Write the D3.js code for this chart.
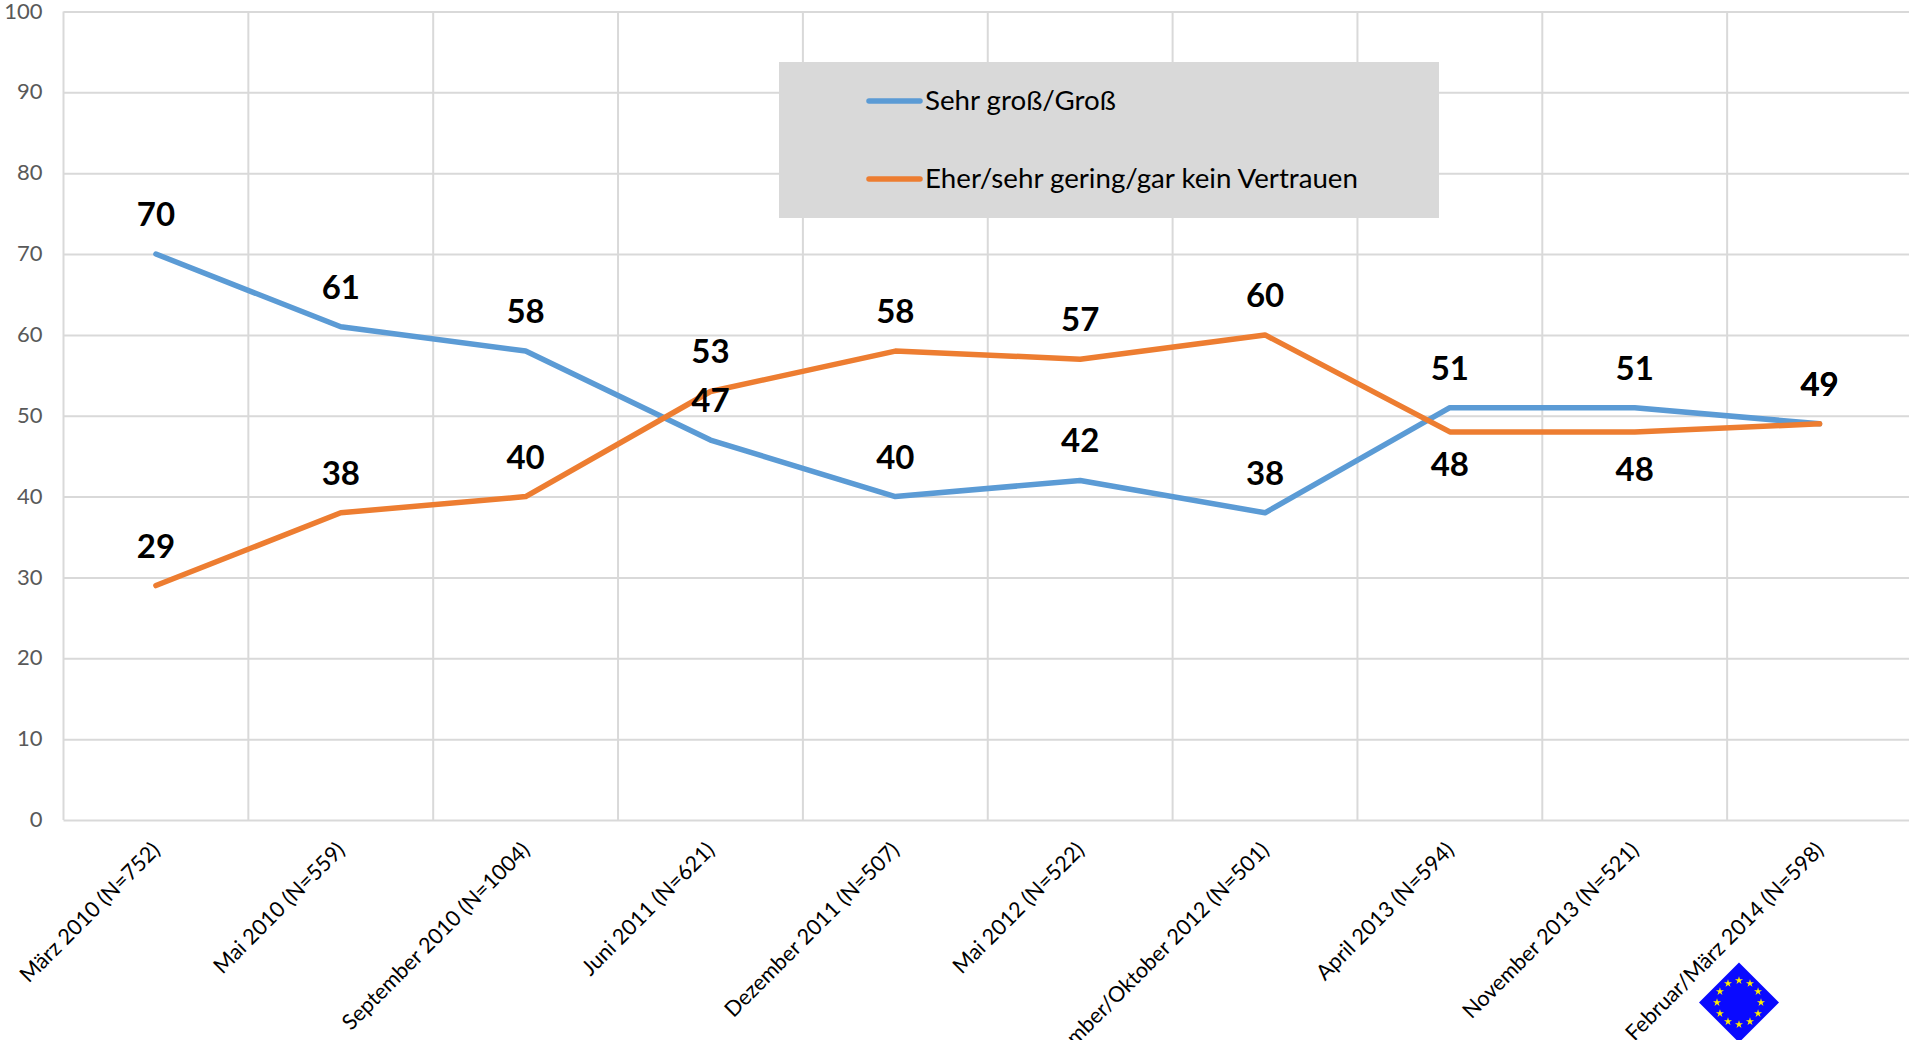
<!DOCTYPE html>
<html>
<head>
<meta charset="utf-8">
<script src="https://cdn.jsdelivr.net/npm/d3@7"></script>
<style>
  html, body { margin: 0; padding: 0; background: #fff; overflow: hidden; }
  svg { display: block; font-family: Lato, "Open Sans", sans-serif; }
</style>
</head>
<body>
<div id="chart"></div>
<script>
// data
var categories = ["März 2010 (N=752)", "Mai 2010 (N=559)", "September 2010 (N=1004)", "Juni 2011 (N=621)",
  "Dezember 2011 (N=507)", "Mai 2012 (N=522)", "September/Oktober 2012 (N=501)", "April 2013 (N=594)",
  "November 2013 (N=521)", "Februar/März 2014 (N=598)"];
var vertrauenHoch = [70, 61, 58, 47, 40, 42, 38, 51, 51, 49];
var vertrauenGering = [29, 38, 40, 53, 58, 57, 60, 48, 48, 49];
var yTicks = [0, 10, 20, 30, 40, 50, 60, 70, 80, 90, 100];
var seriesNames = ["Sehr groß/Groß", "Eher/sehr gering/gar kein Vertrauen"];

var blue = "#5b9bd5", orange = "#ed7d31", gridColor = "#d9d9d9";

var svg = d3.select("#chart").append("svg")
  .attr("width", 1909)
  .attr("height", 1040);

var x = d3.scaleBand().domain(categories).range([63.5, 1912]);
var y = d3.scaleLinear().domain([0, 100]).range([820, 11.5]);

// grid
svg.append("g").selectAll("line")
  .data(categories)
  .enter().append("line")
  .attr("x1", d => x(d)).attr("x2", d => x(d))
  .attr("y1", y(100)).attr("y2", y(0))
  .attr("stroke", gridColor).attr("stroke-width", 2);

var yAxis = svg.append("g")
  .attr("transform", "translate(63.5,0)")
  .call(d3.axisLeft(y).tickValues(yTicks).tickSize(-1850).tickPadding(21));
yAxis.select(".domain").remove();
yAxis.selectAll("line").attr("stroke", gridColor).attr("stroke-width", 2);
yAxis.selectAll("text")
  .attr("fill", "#595959")
  .attr("dy", "0.3em")
  .style("font-size", "22px")
  .style("font-family", "Lato");

// x axis, rotated labels
var xAxis = svg.append("g")
  .attr("transform", "translate(0,820)")
  .call(d3.axisBottom(x).tickSize(0));
xAxis.select(".domain").remove();
xAxis.selectAll("text")
  .attr("fill", "#000")
  .attr("text-anchor", "end")
  .attr("transform", "translate(0,26) rotate(-45)")
  .attr("dy", "0.35em")
  .attr("y", 0)
  .style("font-size", "21.6px")
  .style("font-family", "Lato");

var line = d3.line()
  .x((d, i) => x(categories[i]) + x.bandwidth() / 2)
  .y(d => y(d));

[[vertrauenHoch, blue], [vertrauenGering, orange]].forEach(function(s) {
  svg.append("path")
    .attr("d", line(s[0]))
    .attr("fill", "none")
    .attr("stroke", s[1])
    .attr("stroke-width", 5.5)
    .attr("stroke-linecap", "round")
    .attr("stroke-linejoin", "round");
});

// value labels, the two orange 48 sit under the line
function labels(values, below) {
  svg.append("g").selectAll("text")
    .data(values)
    .enter().append("text")
    .attr("x", (d, i) => x(categories[i]) + x.bandwidth() / 2)
    .attr("y", (d, i) => y(d) + (below[i] === undefined ? -28 : below[i]))
    .attr("text-anchor", "middle")
    .attr("font-weight", "700")
    .attr("font-size", "33px")
    .attr("fill", "#000")
    .text(d => d);
}
labels(vertrauenHoch, {});
labels(vertrauenGering, {7: 44, 8: 49});

// legend
var legend = svg.append("g");
legend.append("rect")
  .attr("x", 779).attr("y", 62)
  .attr("width", 660).attr("height", 156)
  .attr("fill", "#d9d9d9");
[blue, orange].forEach(function(c, i) {
  var ly = 101 + i * 78;
  legend.append("line")
    .attr("x1", 869).attr("x2", 920)
    .attr("y1", ly).attr("y2", ly)
    .attr("stroke", c).attr("stroke-width", 5.5)
    .attr("stroke-linecap", "round");
  legend.append("text")
    .attr("x", 925).attr("y", ly + 9)
    .attr("font-size", "27.7px")
    .attr("fill", "#000")
    .text(seriesNames[i]);
});

// EU flag, turned on its corner
var flag = svg.append("g").attr("transform", "translate(1739,1002.5)");
flag.append("rect")
  .attr("x", -28.3).attr("y", -28.3)
  .attr("width", 56.6).attr("height", 56.6)
  .attr("transform", "rotate(45)")
  .attr("fill", "#0a0aff");
var star = d3.symbol().type(d3.symbolStar).size(20);
flag.selectAll("path.star")
  .data(d3.range(12))
  .enter().append("path")
  .attr("class", "star")
  .attr("d", star)
  .attr("fill", "#ffee00")
  .attr("transform", d => {
    var a = (d * 30 - 90) * Math.PI / 180;
    return "translate(" + (22 * Math.cos(a)) + "," + (22 * Math.sin(a)) + ")";
  });
</script>
</body>
</html>
